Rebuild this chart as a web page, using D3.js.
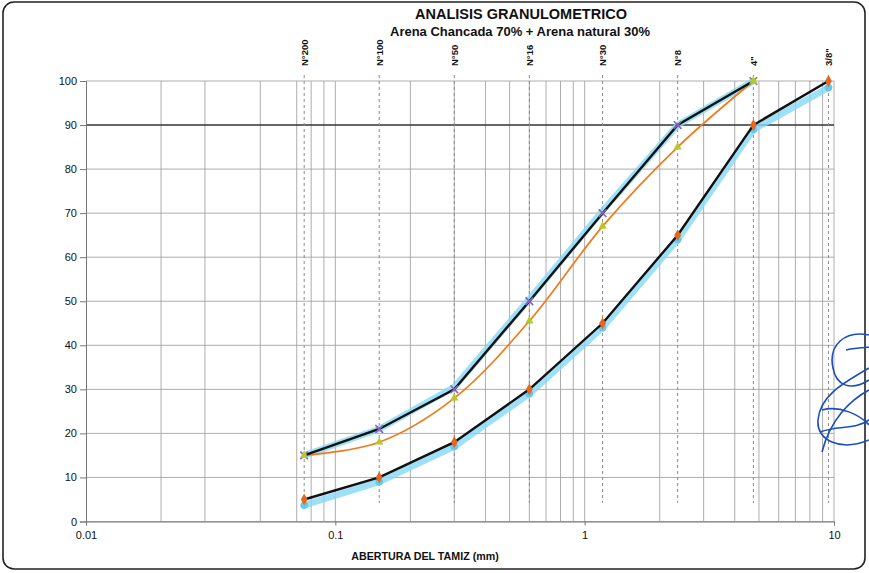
<!DOCTYPE html>
<html>
<head>
<meta charset="utf-8">
<title>Analisis granulometrico</title>
<script src="https://d3js.org/d3.v7.min.js"></script>
<style>
  body { margin: 0; background: #fff; }
  text { font-family: "Liberation Sans", Arial, sans-serif; fill: #111; }
</style>
</head>
<body>
<div id="chart"></div>
<script>
// sieve openings (mm) and their labels
var sieves = [0.075, 0.15, 0.3, 0.6, 1.18, 2.36, 4.75, 9.5]
var sieveLabels = ["N°200", "N°100", "N°50", "N°16", "N°30", "N°8", "4\"", "3/8\""]

// % passing: upper limit, lower limit, sample (Arena Chancada 70% + Arena natural 30%)
var upperX = [0.075, 0.15, 0.3, 0.6, 1.18, 2.36, 4.75]
var upperY = [15, 21, 30, 50, 70, 90, 100]
var lowerX = [0.075, 0.15, 0.3, 0.6, 1.18, 2.36, 4.75, 9.5]
var lowerY = [5, 10, 18, 30, 45, 65, 90, 100]
var sampleX = [0.075, 0.15, 0.3, 0.6, 1.18, 2.36, 4.75]
var sampleY = [15, 18, 28, 45.5, 67, 85, 100]

// light blue highlighter traces drawn under the limits
var upperHiY = [15, 21, 30.5, 50.5, 70.5, 90, 100]
var lowerHiY = [3.7, 9, 17, 29, 44, 64, 89, 98.5]

var yTicks = [0, 10, 20, 30, 40, 50, 60, 70, 80, 90, 100]
var xTicks = [0.01, 0.1, 1, 10]
var xTickLabels = ["0.01", "0.1", "1", "10"]
var minorX = [0.02, 0.03, 0.05, 0.07, 0.08, 0.09,
              0.2, 0.3, 0.4, 0.5, 0.6, 0.7, 0.8, 0.9,
              2, 3, 4, 5, 6, 7, 8, 9]

var width = 869
var height = 573

var svg = d3.select("#chart")
  .append("svg")
    .attr("width", width)
    .attr("height", height)

// page frame
svg.append("rect")
  .attr("x", 3).attr("y", 2)
  .attr("width", 862).attr("height", 567)
  .attr("rx", 11)
  .attr("fill", "none")
  .attr("stroke", "#222")
  .attr("stroke-width", 1.6)

var x = d3.scaleLog().domain([0.01, 10]).range([86, 834])
var y = d3.scaleLinear().domain([0, 100]).range([521.5, 81])

// vertical grid
svg.append("g").selectAll("line")
  .data(minorX.concat([0.1, 1, 10]))
  .enter().append("line")
    .attr("x1", function(d){ return x(d) }).attr("x2", function(d){ return x(d) })
    .attr("y1", y(100)).attr("y2", y(0))
    .attr("stroke", "#a4a4a4")
    .attr("stroke-width", 0.9)

// horizontal grid
svg.append("g").selectAll("line")
  .data(yTicks)
  .enter().append("line")
    .attr("x1", x(0.01)).attr("x2", x(10))
    .attr("y1", function(d){ return y(d) }).attr("y2", function(d){ return y(d) })
    .attr("stroke", function(d){ return d == 90 ? "#333" : "#a4a4a4" })
    .attr("stroke-width", function(d){ return d == 90 ? 1.4 : 0.9 })

// sieve dashed lines
svg.append("g").selectAll("line")
  .data(sieves)
  .enter().append("line")
    .attr("x1", function(d){ return x(d) }).attr("x2", function(d){ return x(d) })
    .attr("y1", 75).attr("y2", 503)
    .attr("stroke", "#8a8a8a")
    .attr("stroke-width", 1)
    .attr("stroke-dasharray", "3,3")

// sieve labels
svg.append("g").selectAll("text")
  .data(sieves)
  .enter().append("text")
    .attr("transform", function(d){ return "translate(" + (x(d) + 3.5) + ",66) rotate(-90)" })
    .style("font-size", "9.5px")
    .style("font-weight", "bold")
    .text(function(d, i){ return sieveLabels[i] })

// axes
var yAxis = d3.axisLeft(y).tickValues(yTicks).tickSize(6).tickPadding(3)
var gy = svg.append("g").attr("transform", "translate(" + x(0.01) + ",0)").call(yAxis)
gy.select(".domain").attr("stroke", "#777")
gy.selectAll(".tick line").attr("stroke", "#777")
gy.selectAll("text").style("font-size", "11px").attr("fill", "#111")

var xAxis = d3.axisBottom(x).tickValues(xTicks).tickSize(4).tickPadding(6)
  .tickFormat(function(d, i){ return xTickLabels[i] })
var gx = svg.append("g").attr("transform", "translate(0," + y(0) + ")").call(xAxis)
gx.select(".domain").attr("stroke", "#777")
gx.selectAll(".tick line").attr("stroke", "#777")
gx.selectAll("text").style("font-size", "11px").attr("fill", "#111")

// series
function pts(xs, ys){ return xs.map(function(d, i){ return [d, ys[i]] }) }
var line = d3.line().x(function(d){ return x(d[0]) }).y(function(d){ return y(d[1]) })
var smooth = d3.line().curve(d3.curveCatmullRom.alpha(0.5))
  .x(function(d){ return x(d[0]) }).y(function(d){ return y(d[1]) })

var hiColor = "#86d8f5"
svg.append("path").datum(pts(upperX, upperHiY))
  .attr("d", line).attr("fill", "none")
  .attr("stroke", hiColor).attr("stroke-width", 6.5).attr("stroke-linejoin", "round").attr("opacity", 0.8)
svg.append("path").datum(pts(lowerX, lowerHiY))
  .attr("d", line).attr("fill", "none")
  .attr("stroke", hiColor).attr("stroke-width", 6.5).attr("stroke-linejoin", "round").attr("opacity", 0.8)
svg.append("g").selectAll("circle")
  .data(pts(lowerX, lowerHiY))
  .enter().append("circle")
    .attr("cx", function(d){ return x(d[0]) }).attr("cy", function(d){ return y(d[1]) })
    .attr("r", 3.8).attr("fill", "#62c8f0")

svg.append("path").datum(pts(sampleX, sampleY))
  .attr("d", smooth).attr("fill", "none")
  .attr("stroke", "#f07a1a").attr("stroke-width", 1.7)

svg.append("path").datum(pts(upperX, upperY))
  .attr("d", line).attr("fill", "none")
  .attr("stroke", "#111").attr("stroke-width", 2.4)
svg.append("path").datum(pts(lowerX, lowerY))
  .attr("d", line).attr("fill", "none")
  .attr("stroke", "#111").attr("stroke-width", 2.4)

// markers
svg.append("g").selectAll("path")
  .data(pts(upperX, upperY))
  .enter().append("path")
    .attr("transform", function(d){ return "translate(" + x(d[0]) + "," + y(d[1]) + ")" })
    .attr("d", d3.symbol(d3.symbolX, 40))
    .attr("stroke", function(d){ return d[1] == 100 ? "#8a8a7a" : "#8a62b8" })
    .attr("stroke-width", 1.6)
svg.append("g").selectAll("path")
  .data(pts(sampleX, sampleY))
  .enter().append("path")
    .attr("transform", function(d){ return "translate(" + x(d[0]) + "," + y(d[1]) + ")" })
    .attr("d", d3.symbol(d3.symbolTriangle, 30))
    .attr("fill", "#b5c92a")
svg.append("g").selectAll("path")
  .data(pts(lowerX, lowerY))
  .enter().append("path")
    .attr("transform", function(d){ return "translate(" + x(d[0]) + "," + y(d[1]) + ")" })
    .attr("d", d3.symbol(d3.symbolDiamond, 40))
    .attr("fill", "#e8661c")

// titles
svg.append("text")
  .attr("x", 521).attr("y", 19)
  .attr("text-anchor", "middle")
  .style("font-size", "14.5px").style("font-weight", "bold")
  .text("ANALISIS GRANULOMETRICO")
svg.append("text")
  .attr("x", 520).attr("y", 36)
  .attr("text-anchor", "middle")
  .style("font-size", "13px").style("font-weight", "bold")
  .text("Arena Chancada 70% + Arena natural 30%")
svg.append("text")
  .attr("x", 425).attr("y", 560)
  .attr("text-anchor", "middle")
  .style("font-size", "11.5px").style("font-weight", "bold")
  .attr("transform", "translate(425,0) scale(0.93,1) translate(-425,0)")
  .text("ABERTURA DEL TAMIZ (mm)")

// pen signature on the right edge
var sig = svg.append("g").attr("fill", "none").attr("stroke", "#1d4fb8").attr("stroke-width", 1.6)
sig.append("path").attr("d", "M869,335 C845,330 828,345 833,368 C836,385 850,392 869,380")
sig.append("path").attr("d", "M846,350 C855,348 862,348 869,347")
sig.append("path").attr("d", "M869,368 C845,382 820,395 818,420 C816,440 840,452 869,440")
sig.append("path").attr("d", "M869,390 C850,400 830,420 822,452")
sig.append("path").attr("d", "M822,410 C840,405 860,415 869,425")
sig.append("path").attr("d", "M820,432 C838,425 855,430 869,420")
</script>
</body>
</html>
